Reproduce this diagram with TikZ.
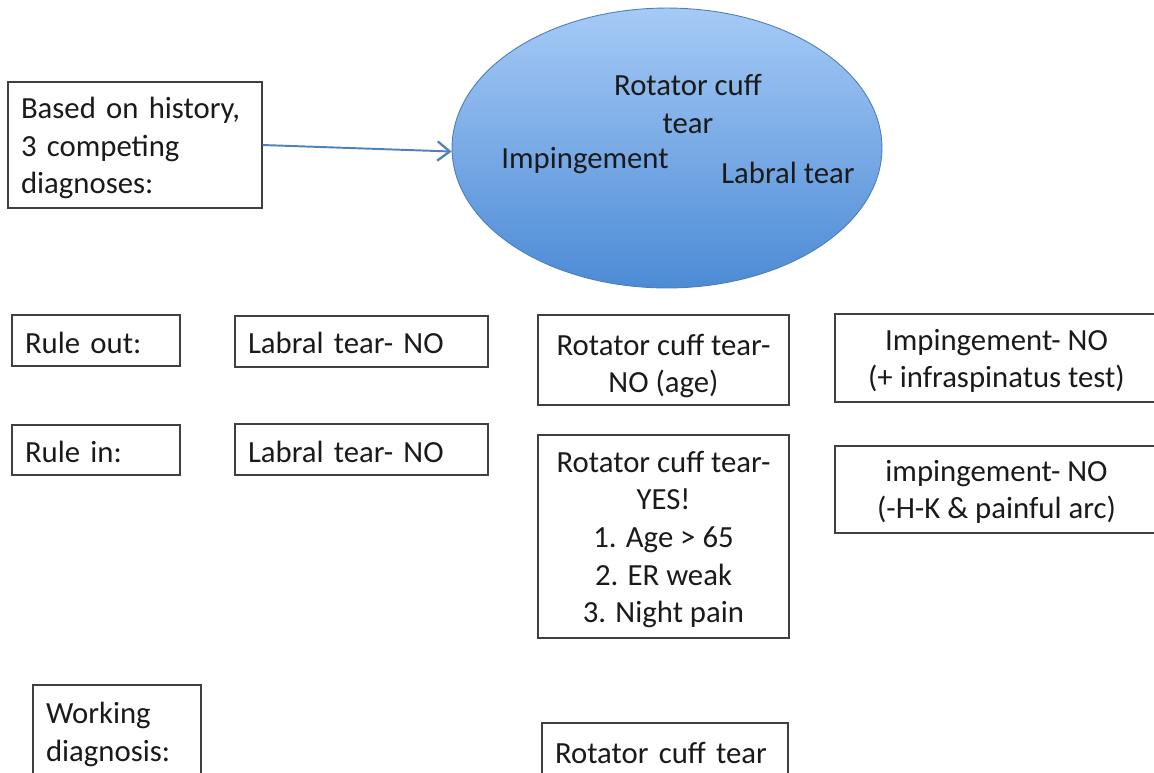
\documentclass[tikz,border=0pt]{standalone}
\usepackage{fontspec}
\setmainfont{Carlito}
\usetikzlibrary{arrows.meta,shapes.geometric}
\definecolor{boxline}{HTML}{404040}
\definecolor{txt}{HTML}{1A1A1A}
\definecolor{elltop}{HTML}{A6CAF6}
\definecolor{ellbot}{HTML}{4C8BD5}
\definecolor{ellline}{HTML}{4A7EBB}
\definecolor{arrowc}{HTML}{4F81BD}
\tikzset{
  txtfont/.style={font=\fontsize{17.5pt}{21.4pt}\selectfont, text=txt},
  frame/.style={draw=boxline, line width=0.8pt, rectangle, inner sep=0pt},
  tx/.style={txtfont, inner sep=0pt, align=center},
  txl/.style={txtfont, inner sep=0pt, align=left},
}
\begin{document}
\begin{tikzpicture}[x=0.02cm, y=-0.02cm]
\useasboundingbox (0,0) rectangle (1154,772);
% ellipse
\node[ellipse, draw=ellline, line width=0.5pt, top color=elltop, bottom color=ellbot,
      minimum width=8.6cm, minimum height=5.6cm, inner sep=0pt] (ell) at (667,148) {};
\node[tx] (rct) at (688,104) {Rotator cuff\\tear};
\node[tx] (imp) at (585,161) {Impingement};
\node[tx] (lab) at (788,173) {Labral tear};
% history box
\node[frame, minimum width=5.08cm, minimum height=2.52cm] (hist) at (135,145) {};
\node[txl, text width=4.56cm] (histt) at ([yshift=-1.7pt]hist.center)
  {Based on history,\\3 competing\\diagnoses:};
\draw[arrowc, line width=1.1pt, -{Straight Barb[length=7pt, width=11pt, line width=1.3pt]}]
  (hist.east) -- ([yshift=-2pt]ell.west);
% rule out row
\node[frame, minimum width=3.36cm, minimum height=1.02cm] (rout) at (96,340.5) {};
\node[txl, text width=2.84cm] (routt) at ([yshift=-1.2pt]rout.center) {Rule out:};
\node[frame, minimum width=5.06cm, minimum height=1.02cm] (lab1) at (361.5,341.5) {};
\node[txl, text width=4.54cm] (lab1t) at ([yshift=-0.7pt]lab1.center) {Labral tear- NO};
\node[frame, minimum width=5.02cm, minimum height=1.8cm] (rc1) at (663.5,360) {};
\node[tx] (rc1t) at ([yshift=-3.4pt]rc1.center) {Rotator cuff tear-\\NO (age)};
\node[frame, minimum width=6.46cm, minimum height=1.76cm] (imp1) at (996.5,358) {};
\node[tx] (imp1t) at ([yshift=-1.7pt]imp1.center) {Impingement- NO\\(+ infraspinatus test)};
% rule in row
\node[frame, minimum width=3.36cm, minimum height=1.0cm] (rin) at (96,450) {};
\node[txl, text width=2.84cm] (rint) at ([yshift=-1.2pt]rin.center) {Rule in:};
\node[frame, minimum width=5.06cm, minimum height=1.02cm] (lab2) at (361.5,449.5) {};
\node[txl, text width=4.54cm] (lab2t) at ([yshift=-1.2pt]lab2.center) {Labral tear- NO};
\node[frame, minimum width=5.02cm, minimum height=4.06cm] (rc2) at (663.5,536.5) {};
\node[tx] (rc2t) at ([yshift=-1.7pt]rc2.center)
  {Rotator cuff tear-\\YES!\\1. Age > 65\\2. ER weak\\3. Night pain};
\node[frame, minimum width=6.46cm, minimum height=1.74cm] (imp2) at (996.5,489.5) {};
\node[tx] (imp2t) at ([yshift=-1.4pt]imp2.center) {impingement- NO\\(-H-K \& painful arc)};
% working diagnosis
\node[frame, minimum width=3.36cm, minimum height=1.86cm] (work) at (117,731.5) {};
\node[txl, text width=2.84cm] (workt) at ([yshift=-1.7pt]work.center) {Working\\diagnosis:};
\node[frame, minimum width=4.92cm, minimum height=1.2cm] (rc3) at (665,753) {};
\node[txl, text width=4.4cm] (rc3t) at (rc3.center) {Rotator cuff tear};
\end{tikzpicture}
\end{document}
